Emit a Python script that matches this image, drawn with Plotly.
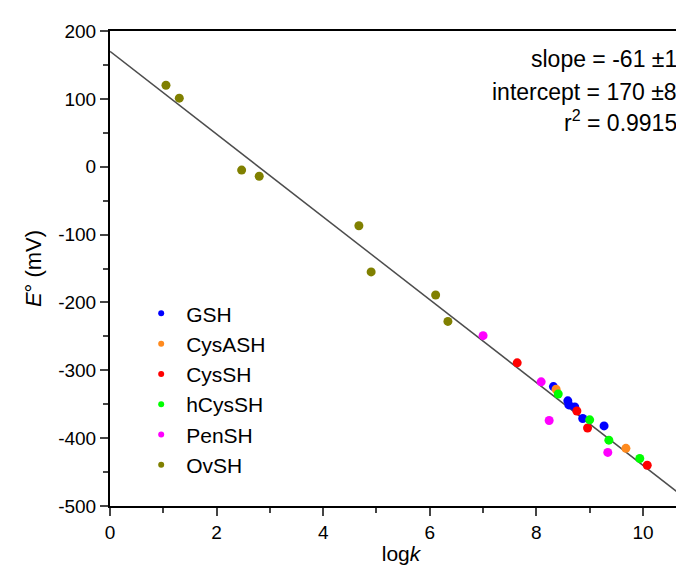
import plotly.graph_objects as go

# series (logk, E° in mV)
gsh_x = [8.32, 8.59, 8.61, 8.72, 8.87, 9.27]
gsh_y = [-324, -345, -351, -354, -371, -382]
cysash_x = [8.37, 9.68]
cysash_y = [-328, -415]
cyssh_x = [7.64, 8.76, 8.96, 10.08]
cyssh_y = [-289, -360, -385, -440]
hcyssh_x = [8.41, 9.00, 9.36, 9.94]
hcyssh_y = [-335, -373, -403, -430]
pensh_x = [7.00, 8.09, 8.24, 9.34]
pensh_y = [-249, -317, -374, -421]
ovsh_x = [1.05, 1.30, 2.47, 2.80, 4.67, 4.90, 6.11, 6.34]
ovsh_y = [120, 101, -5, -14, -87, -155, -189, -228]

# linear fit as printed on the chart
fit_slope = -61
fit_intercept = 170
fit_x = [0, 11]

y_ticks = [200, 100, 0, -100, -200, -300, -400, -500]
y_ticklabels = ["200", "100", "0", "-100", "-200", "-300", "-400", "-500"]

series = [
    ("GSH", gsh_x, gsh_y, "#0000ff"),
    ("CysASH", cysash_x, cysash_y, "#ff8a1e"),
    ("CysSH", cyssh_x, cyssh_y, "#ff0000"),
    ("hCysSH", hcyssh_x, hcyssh_y, "#00ff00"),
    ("PenSH", pensh_x, pensh_y, "#ff00ff"),
    ("OvSH", ovsh_x, ovsh_y, "#808000"),
]

font = "Arial, Liberation Sans, sans-serif"

fig = go.Figure()

fig.add_trace(go.Scatter(
    x=fit_x, y=[fit_intercept + fit_slope * v for v in fit_x],
    mode="lines", line=dict(color="#4d4d4d", width=1.5),
    showlegend=False, hoverinfo="skip",
))

for name, xs, ys, col in series:
    fig.add_trace(go.Scatter(
        x=xs, y=ys, mode="markers", name=name,
        marker=dict(color=col, size=9),
        showlegend=False,
    ))
    # legend entry with a smaller dot
    fig.add_trace(go.Scatter(
        x=[None], y=[None], mode="markers", name=name,
        marker=dict(color=col, size=6),
    ))

notes = [
    ("slope = -61 ±1", 0.941),
    ("intercept = 170 ±8", 0.871),
    ("r<sup>2</sup> = 0.9915", 0.811),
]
for txt, yy in notes:
    fig.add_annotation(
        text=txt, xref="paper", yref="paper", x=0.978, y=yy,
        xanchor="right", yanchor="middle", showarrow=False,
        font=dict(family=font, size=23, color="black"),
    )

fig.update_layout(
    width=684, height=572,
    margin=dict(l=102, r=0, t=23, b=74),
    plot_bgcolor="white", paper_bgcolor="white",
    font=dict(family=font, size=19, color="black"),
    legend=dict(
        x=0.045, y=0.448, xanchor="left", yanchor="top",
        font=dict(size=21), bgcolor="rgba(0,0,0,0)",
        itemwidth=40, tracegroupgap=0,
    ),
    xaxis=dict(
        range=[0, 10.92], tick0=0, dtick=2,
        ticks="outside", ticklen=8, tickwidth=2,
        minor=dict(dtick=1, ticks="outside", ticklen=5, tickwidth=2),
        showline=True, linecolor="black", linewidth=2, mirror=True,
        showgrid=False, zeroline=False,
        title=dict(text="log<i>k</i>", font=dict(size=21), standoff=5),
    ),
    yaxis=dict(
        range=[-500, 200], tickvals=y_ticks, ticktext=y_ticklabels,
        ticks="outside", ticklen=8, tickwidth=2,
        minor=dict(dtick=50, ticks="outside", ticklen=5, tickwidth=2),
        showline=True, linecolor="black", linewidth=2,
        showgrid=False, zeroline=False,
        title=dict(text="<i>E</i>° (mV)", font=dict(size=22), standoff=10),
    ),
)

fig.write_html("out.html")
